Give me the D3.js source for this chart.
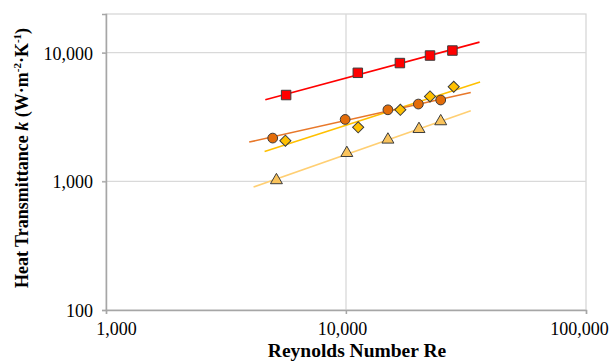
<!DOCTYPE html>
<html><head><meta charset="utf-8">
<script src="https://cdn.jsdelivr.net/npm/d3@7"></script>
<style>body{margin:0;background:#fff}svg{display:block}</style>
</head><body>
<svg id="chart" width="611" height="361"></svg>
<script>
// ---- data ----
const xTicks = [1000, 10000, 100000];
const yTicks = [100, 1000, 10000];
const squaresRe = [5630, 11200, 16770, 22390, 27760];
const squaresK  = [4690, 6980, 8310, 9510, 10400];
const circlesRe = [4950, 9920, 14950, 20020, 24810];
const circlesK  = [2170, 3030, 3600, 3990, 4290];
const diamondsRe = [5590, 11240, 16840, 22390, 28110];
const diamondsK  = [2070, 2630, 3600, 4570, 5440];
const trianglesRe = [5130, 10080, 14950, 20140, 24810];
const trianglesK  = [1020, 1660, 2110, 2550, 2930];
// power trend lines: [start, end]
const squaresTrendRe = [4610, 36000];   const squaresTrendK = [4310, 12090];
const circlesTrendRe = [3950, 33100];   const circlesTrendK = [2020, 4910];
const diamondsTrendRe = [4580, 36200];  const diamondsTrendK = [1710, 5910];
const trianglesTrendRe = [4120, 33100]; const trianglesTrendK = [905, 3540];

const FONT = "'Liberation Serif','Times New Roman',Times,serif";
const svg = d3.select("#chart");
const L = 106, R = 586, T = 14, B = 310;
const x = d3.scaleLog().domain([1000, 100000]).range([L, R]);
const y = d3.scaleLog().domain([100, 20000]).range([B, T]);
const fmt = d3.format(",");

// plot border
svg.append("rect").attr("x", L).attr("y", T).attr("width", R - L).attr("height", B - T)
  .attr("fill", "none").attr("stroke", "#d4d4d4").attr("stroke-width", 1.2);

// gridlines
svg.append("g").selectAll("line").data(yTicks.filter(v => v > 100)).join("line")
  .attr("x1", L - 4).attr("x2", R).attr("y1", d => y(d)).attr("y2", d => y(d))
  .attr("stroke", "#d9d9d9").attr("stroke-width", 1.3);
svg.append("g").selectAll("line").data(xTicks.filter(v => v > 1000 && v < 100000)).join("line")
  .attr("x1", d => x(d)).attr("x2", d => x(d)).attr("y1", T).attr("y2", B + 4)
  .attr("stroke", "#d9d9d9").attr("stroke-width", 1.3);

// axes
const xAxis = svg.append("g").attr("transform", `translate(0,${B})`)
  .call(d3.axisBottom(x).tickValues(xTicks).tickFormat(fmt).tickSize(4).tickPadding(8));
const yAxis = svg.append("g").attr("transform", `translate(${L},0)`)
  .call(d3.axisLeft(y).tickValues(yTicks).tickFormat(fmt).tickSize(4).tickPadding(9));
[xAxis, yAxis].forEach(a => {
  a.attr("font-family", null).attr("font-size", null);
  a.select(".domain").attr("stroke", "#a6a6a6").attr("stroke-width", 1.5);
  a.selectAll(".tick line").attr("stroke", "#a6a6a6").attr("stroke-width", 1.3);
  a.selectAll("text").style("font-family", FONT)
    .style("font-size", "18px").attr("fill", "#000");
});
yAxis.selectAll("text").attr("dy", "0.35em");
// label placement kept inside the frame, as in the original
xAxis.selectAll(".tick text").attr("dx", (d, i, n) => i === 0 ? 10 : (i === n.length - 1 ? -7 : -4));

// trend lines
const series = [
  {re: trianglesRe, k: trianglesK, tr: trianglesTrendRe, tk: trianglesTrendK, line: "#ffcf73", fill: "#f9c35c", shape: "triangle"},
  {re: diamondsRe, k: diamondsK, tr: diamondsTrendRe, tk: diamondsTrendK, line: "#ffc000", fill: "#ffc000", shape: "diamond"},
  {re: circlesRe, k: circlesK, tr: circlesTrendRe, tk: circlesTrendK, line: "#e8782a", fill: "#e36c09", shape: "circle"},
  {re: squaresRe, k: squaresK, tr: squaresTrendRe, tk: squaresTrendK, line: "#ff0000", fill: "#ff0000", shape: "square"}
];
series.forEach(s => {
  svg.append("line")
    .attr("x1", x(s.tr[0])).attr("y1", y(s.tk[0]))
    .attr("x2", x(s.tr[1])).attr("y2", y(s.tk[1]))
    .attr("stroke", s.line).attr("stroke-width", 1.6);
});
const symbols = {
  square: d3.symbol().type(d3.symbolSquare).size(90),
  circle: d3.symbol().type(d3.symbolCircle).size(75),
  diamond: d3.symbol().type(d3.symbolSquare).size(62),
  triangle: d3.symbol().type(d3.symbolTriangle).size(62)
};
series.forEach(s => {
  svg.append("g").selectAll("path").data(s.re.map((r, i) => [r, s.k[i]])).join("path")
    .attr("d", symbols[s.shape])
    .attr("transform", d => `translate(${x(d[0])},${y(d[1])})` + (s.shape === "diamond" ? " rotate(45)" : ""))
    .attr("fill", s.fill).attr("stroke", "#3c3c3c").attr("stroke-width", 1);
});

// axis titles
svg.append("text").attr("x", 357).attr("y", 357).attr("text-anchor", "middle")
  .style("font-family", FONT).attr("font-weight", "bold")
  .attr("font-size", 19.5).text("Reynolds Number Re");

const yt = svg.append("text").attr("transform", "translate(28,158) rotate(-90)").attr("text-anchor", "middle")
  .style("font-family", FONT).attr("font-weight", "bold")
  .attr("font-size", 18);
yt.append("tspan").text("Heat Transmittance ");
yt.append("tspan").attr("font-style", "italic").text("k");
yt.append("tspan").text(" (W·m");
yt.append("tspan").attr("font-size", 11).attr("dy", -7).text("-2");
yt.append("tspan").attr("dy", 7).text("·K");
yt.append("tspan").attr("font-size", 11).attr("dy", -7).text("-1");
yt.append("tspan").attr("dy", 7).text(")");
</script>
</body></html>
